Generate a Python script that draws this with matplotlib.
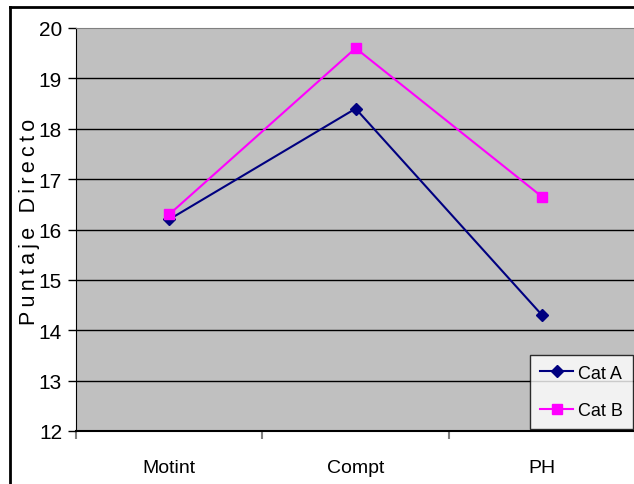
import matplotlib
matplotlib.use("Agg")
import matplotlib.pyplot as plt
from matplotlib.lines import Line2D
import numpy as np

categories = ["Motint", "Compt", "PH"]
cat_a = [16.2, 18.4, 14.3]
cat_b = [16.3, 19.6, 16.65]
yticks = [12, 13, 14, 15, 16, 17, 18, 19, 20]

plt.rcParams['font.family'] = ['Liberation Sans', 'DejaVu Sans']

fig = plt.figure(figsize=(6.34, 4.85), dpi=100)
ax = fig.add_axes([76 / 634, 1 - 432 / 485, 1 - 76 / 634 + 0.002, (432 - 29) / 485])
ax.set_facecolor('#C0C0C0')

x = np.arange(len(categories))
ax.plot(x, cat_a, color='#000080', lw=1.5, marker='D', ms=6.5, label='Cat A', zorder=3)
ax.plot(x, cat_b, color='#FF00FF', lw=1.5, marker='s', ms=6.5, label='Cat B', zorder=3)

ax.set_xlim(-0.5, len(categories) - 0.5)
ax.set_ylim(12, 20)
ax.set_yticks(yticks)
ax.tick_params(axis='y', direction='out', length=6, width=1, labelsize=15, pad=4)
for y in yticks[1:-1]:
    ax.axhline(y, color='black', lw=1, zorder=1)

ax.set_xticks(x)
ax.set_xticklabels(categories)
ax.set_xticks(np.arange(-0.5, len(categories)), minor=True)
ax.tick_params(axis='x', which='major', length=0, labelsize=14, pad=20)
ax.tick_params(axis='x', which='minor', direction='out', length=6, width=1.5, color='#808080')

for s in ['top', 'right']:
    ax.spines[s].set_color('#808080')
ax.spines['left'].set_color('black')
ax.spines['bottom'].set_color('black')
ax.spines['bottom'].set_linewidth(1.5)

lab = '\u2009'.join('Puntaje Directo')
fig.text(30 / 634, 1 - 222 / 485, lab, rotation=90, va='center', ha='center', fontsize=15.5)

leg = ax.legend(loc='lower right', bbox_to_anchor=(0.996, 0.004), frameon=True, fancybox=False,
                fontsize=13, handlelength=1.8, borderpad=0.55, labelspacing=1.15,
                handletextpad=0.3, borderaxespad=0.0)
leg.get_frame().set_edgecolor('black')
leg.get_frame().set_facecolor('white')
leg.get_frame().set_linewidth(1)

fig.add_artist(Line2D([10 / 634, 10 / 634], [0, 1 - 8 / 485], color='black', lw=2, transform=fig.transFigure))
fig.add_artist(Line2D([10 / 634, 1], [1 - 8 / 485, 1 - 8 / 485], color='black', lw=2, transform=fig.transFigure))

fig.savefig('out.png', dpi=100)
